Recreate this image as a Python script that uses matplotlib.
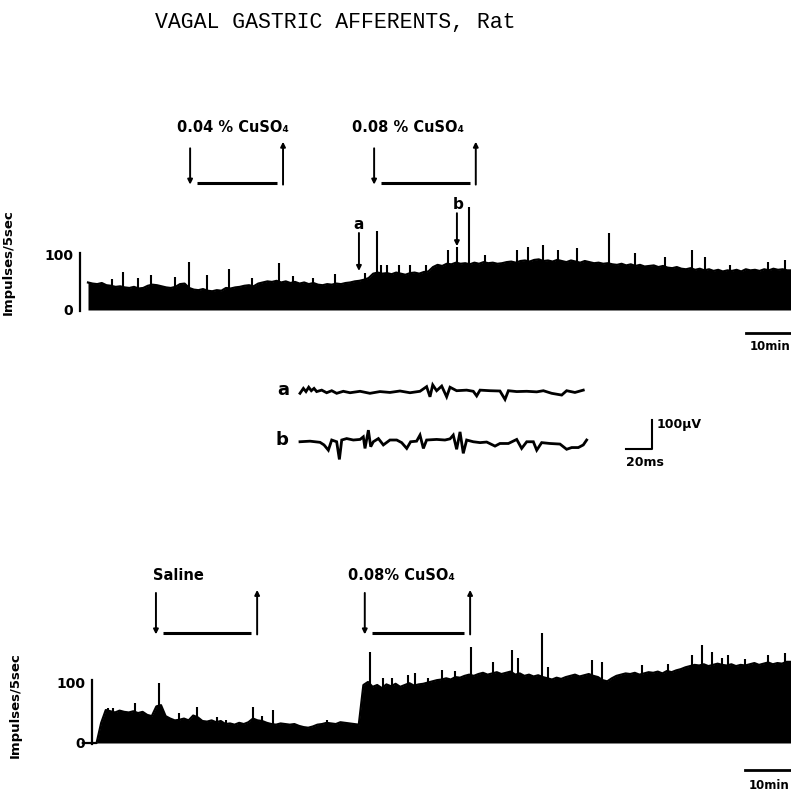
import matplotlib.pyplot as plt
import numpy as np

# ---- upper record: impulses / 5 s, 1-min bins starting at t = 0 min
top_rate = [50, 48, 47, 49, 45, 44, 42, 43, 41, 40,
            42, 39, 40, 44, 46, 45, 43, 41, 40, 42,
            47, 48, 40, 37, 36, 38, 35, 34, 36, 35,
            40, 39, 41, 42, 44, 45, 43, 48, 50, 52,
            51, 53, 50, 52, 49, 51, 48, 50, 47, 49,
            46, 45, 47, 46, 48, 47, 49, 50, 52, 53,
            55, 58, 66, 68, 66, 67, 65, 68, 66, 64,
            67, 68, 66, 69, 70, 78, 82, 80, 84, 83,
            86, 84, 85, 83, 86, 84, 87, 85, 86, 84,
            85, 87, 88, 86, 89, 90, 88, 91, 92, 89,
            90, 88, 91, 89, 87, 90, 88, 86, 89, 87,
            85, 86, 84, 85, 83, 82, 84, 81, 83, 80,
            82, 79, 80, 81, 78, 80, 77, 76, 78, 75,
            74, 76, 73, 75, 72, 74, 71, 73, 70, 72,
            71, 73, 70, 74, 72, 73, 71, 74, 72, 75,
            73, 74, 72]
top_spike_t = [5.2, 7.6, 10.9, 13.7, 19.0, 22.0, 25.8, 30.7, 35.6, 41.6,
               44.6, 49.0, 53.7, 60.2, 62.8, 63.7, 65.1, 67.7, 69.9, 73.5,
               78.3, 80.2, 82.8, 86.3, 93.3, 95.7, 98.9, 102.2, 106.3, 113.3,
               118.9, 125.4, 131.3, 134.1, 139.6, 147.8, 151.5]
top_spike_v = [56, 69, 58, 64, 60, 87, 64, 74, 58, 86,
               62, 58, 65, 67, 144, 82, 82, 82, 82, 82,
               109, 115, 187, 100, 109, 115, 118, 109, 113, 140,
               104, 96, 109, 96, 82, 87, 91]

# ---- lower record: 1-min bins starting at t = -2 min
bot_rate = [0, 0, 0, 0, 33, 54,
            52, 50, 53, 51, 50, 52, 49, 51, 46, 44,
            60, 62, 44, 40, 37, 38, 40, 37, 45, 42,
            36, 35, 37, 34, 36, 31, 32, 30, 33, 31,
            34, 40, 37, 36, 33, 31, 30, 32, 31, 30,
            31, 28, 26, 25, 27, 30, 31, 33, 32, 31,
            34, 33, 32, 31, 30, 95, 100, 92, 95, 90,
            96, 93, 97, 92, 95, 98, 94, 96, 97, 99,
            101, 103, 104, 106, 104, 108, 107, 110, 112, 110,
            113, 115, 112, 114, 116, 113, 115, 117, 112, 114,
            110, 112, 109, 111, 108, 106, 104, 107, 105, 108,
            110, 112, 109, 111, 113, 110, 108, 103, 101, 106,
            110, 112, 114, 113, 115, 112, 114, 116, 115, 117,
            114, 118, 116, 119, 121, 124, 126, 128, 127, 129,
            126, 128, 130, 128, 127, 129, 126, 128, 127, 129,
            131, 128, 130, 132, 129, 131, 130, 133]
bot_spike_t = [3.5, 4.6, 9.3, 14.6, 18.9, 22.8, 27.2, 29.1, 35.1, 37.0,
               39.4, 51.1, 60.4, 63.3, 65.2, 68.7, 70.2, 73.1, 76.0, 78.9,
               82.4, 87.2, 91.3, 92.6, 97.8, 99.1, 108.7, 110.9, 119.6, 125.2,
               130.4, 132.6, 134.8, 137.0, 138.3, 142.0, 147.0, 150.7]
bot_spike_v = [57, 58, 66, 98, 49, 59, 43, 38, 59, 45,
               54, 38, 149, 106, 107, 111, 114, 107, 120, 118,
               157, 133, 152, 140, 180, 125, 136, 133, 128, 130,
               145, 160, 149, 140, 144, 138, 145, 148]

# stimulus periods (label, on, off) in minutes
top_stim = [("0.04 % CuSO\u2084", 22.2, 42.4), ("0.08 % CuSO\u2084", 62.2, 84.3)]
bot_stim = [("Saline", 13.9, 35.9), ("0.08% CuSO\u2084", 59.3, 82.2)]

# ---- single-unit sweeps (ms, microvolts)
a_ms = [0, 2.6, 4.6, 6.7, 8.7, 10.8, 12.8, 16.7, 20.5, 24.4, 28.2, 33.3, 38.5,
        46.2, 53.8, 61.5, 69.2, 76.9, 84.6, 92.3, 97.4, 100, 102.1, 105.1, 109,
        112.8, 115.4, 120.5, 128.2, 133.3, 135.9, 138.5, 146.2, 153.8, 157.7,
        160.3, 166.7, 174.4, 182.1, 187.2, 193.6, 201.3, 205.1, 211.5, 217.9]
a_uv = [-8, 9, -2, 13, 1, 9, -2, 3, -6, 1, -8, -1, -6,
        -1, -8, -2, -5, 0, -6, -1, 15, -20, 21, 1, 17,
        -20, 13, 1, 3, -1, -17, 3, 1, 0, -29,
        1, -2, -1, -3, 1, -8, -14, 1, -5, 3]
b_ms = [0, 7.7, 15.4, 18.5, 21.8, 24.4, 28.2, 30.3, 32.1, 35.9, 41, 46.2, 48.7,
        50, 52.6, 54.4, 56.4, 60.3, 64.1, 69.2, 74.4, 78.2, 82.1, 85.1, 89.7,
        92.3, 94.9, 97.4, 105.1, 111.5, 115.4, 117.9, 120.5, 123.1, 125.6, 128.2,
        133.3, 138.5, 143.6, 150, 153.8, 160.3, 166.7, 170.5, 174.4, 179.5, 182.1,
        185.9, 192.3, 200, 205.1, 209, 214.1, 217.9, 220.5]
b_uv = [0, 2, -2, -11, -29, 6, 0, -61, 6, 11, 6, 8, 17,
        -23, 40, -17, 0, 11, -11, 6, 6, -3, -23, 0, 2,
        23, -23, 6, 8, 6, 10, 23, -26, 34, -40, 6,
        0, -3, -1, -15, -6, -6, 8, -23, 0, 0, -29,
        -3, -6, -8, -26, -20, -20, -11, 6]

W, H = 791, 793
fig = plt.figure(figsize=(W / 100, H / 100), dpi=100)
lab = dict(fontfamily="DejaVu Sans", fontweight="bold")
arrow = dict(arrowstyle="-|>", lw=1.4, color="k", mutation_scale=7, shrinkA=0, shrinkB=0)


def rate_panel(ax, t0, rate, sp_t, sp_v, stims, axis_x, ylab_xy, lab_y, stim_y, bar_y):
    # each value covers its minute bin; the last bin runs to the end of the record
    t = np.arange(len(rate)) + t0
    t = np.append(t, t[-1] + 1)
    r = np.append(rate, rate[-1])
    ax.fill_between(t, r, color="black", lw=0)
    ax.plot(t, r, color="black", lw=1.6)
    ax.vlines(sp_t, 0, sp_v, color="black", lw=1.5)

    for s in ["top", "right", "bottom"]:
        ax.spines[s].set_visible(False)
    ax.spines["left"].set_position(("data", axis_x))
    ax.spines["left"].set_bounds(-2, 104)
    ax.spines["left"].set_linewidth(1.6)
    ax.set_xticks([])
    ax.set_yticks([0, 100])
    ax.tick_params(axis="y", length=0, pad=5, labelsize=10)
    for tl in ax.get_yticklabels():
        tl.set_fontweight("bold")
    ax.text(*ylab_xy, "Impulses/5sec", rotation=90, ha="center", va="center",
            fontsize=9.5, **lab)

    on_y, bar_lvl, off_y = stim_y
    for (name, on, off), lx in zip(stims, lab_y[0]):
        ax.annotate("", xy=(on, bar_lvl - 3), xytext=(on, on_y), arrowprops=arrow)
        ax.annotate("", xy=(off, off_y), xytext=(off, bar_lvl - 3), arrowprops=arrow)
        ax.plot([on + 1.6, off - 1.3], [bar_lvl, bar_lvl], color="black", lw=2.2,
                solid_capstyle="butt")
        ax.text(on + lx, lab_y[1], name, ha="left", va="center", fontsize=10.5, **lab)

    t_end = t[-1]
    ax.plot([t_end - 10, t_end], [bar_y, bar_y], color="black", lw=2)
    ax.text(t_end - 0.4, bar_y - 25, "10min", ha="right", va="center", fontsize=8.5, **lab)


# upper panel: 4.6 px per min, 0.55 px per impulse
ax1 = fig.add_axes([0, 1 - 360 / H, 1, 260 / H])
ax1.set_xlim(-88 / 4.6, 703 / 4.6)
ax1.set_ylim(-50 / 0.55, 210 / 0.55)
rate_panel(ax1, 0, top_rate, top_spike_t, top_spike_v, top_stim,
           axis_x=-1.7, ylab_xy=(-17.4, 87), lab_y=([-2.9, -4.8], 331),
           stim_y=(294, 231, 306), bar_y=-42)
ax1.text(58.9, 156, "a", ha="center", va="center", fontsize=11, **lab)
ax1.annotate("", xy=(58.9, 71), xytext=(58.9, 140), arrowprops=arrow)
ax1.text(80.4, 191, "b", ha="center", va="center", fontsize=11, **lab)
ax1.annotate("", xy=(80.2, 116), xytext=(80.2, 176), arrowprops=arrow)

# middle: unit sweeps, 1.3 px per ms, 0.29 px per uV
ax2 = fig.add_axes([0, 1 - 480 / H, 1, 120 / H])
ax2.set_xlim(-300 / 1.3, 491 / 1.3)
ax2.set_ylim(-89 / 0.29, 31 / 0.29)
ax2.axis("off")
b_off = -175
ax2.plot(a_ms, a_uv, color="black", lw=2, solid_joinstyle="miter")
ax2.plot(b_ms, np.array(b_uv) + b_off, color="black", lw=2, solid_joinstyle="miter")
ax2.text(-13, 5, "a", ha="center", va="center", fontsize=13, **lab)
ax2.text(-14, b_off + 5, "b", ha="center", va="center", fontsize=13, **lab)
ax2.plot([250.8, 270.8, 270.8], [-200, -200, -100], color="black", lw=1.5)
ax2.text(274.5, -114, "100\u00b5V", ha="left", va="center", fontsize=9, **lab)
ax2.text(251, -245, "20ms", ha="left", va="center", fontsize=9, **lab)

# lower panel: 4.6 px per min, 0.61 px per impulse
ax3 = fig.add_axes([0, 0, 1, 253 / H])
ax3.set_xlim(-92 / 4.6, 699 / 4.6)
ax3.set_ylim(-50 / 0.61, 203 / 0.61)
rate_panel(ax3, -2, bot_rate, bot_spike_t, bot_spike_v, bot_stim,
           axis_x=0, ylab_xy=(-16.7, 62), lab_y=([-0.6, -3.6], 275),
           stim_y=(246, 181, 251), bar_y=-44)

fig.text(335 / W, 1 - 22 / H, "VAGAL GASTRIC AFFERENTS, Rat", ha="center", va="center",
         fontfamily="Liberation Mono", fontsize=15.5)

fig.savefig("out.png", dpi=100)
